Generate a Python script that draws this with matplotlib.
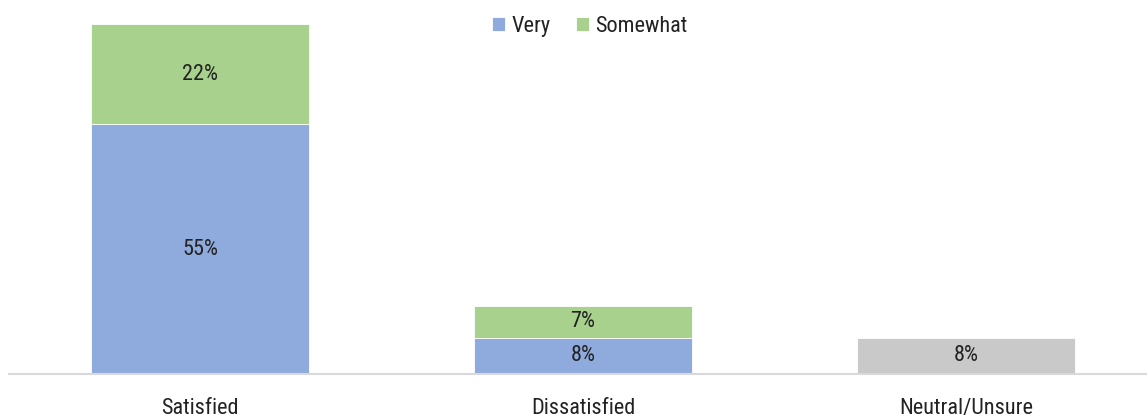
import matplotlib
matplotlib.use("Agg")
import matplotlib.pyplot as plt
from matplotlib import font_manager

categories = ["Satisfied", "Dissatisfied", "Neutral/Unsure"]
very = [55, 8, 0]
somewhat = [22, 7, 0]
neutral = [0, 0, 8]

BLUE, GREEN, GREY = "#8faadc", "#a9d18e", "#c9c9c9"
INK = "#222222"

# narrow sans if one is around, otherwise condensed DejaVu
installed = {f.name for f in font_manager.fontManager.ttflist}
for fam in ("Roboto Condensed", "Open Sans Condensed"):
    if fam in installed:
        plt.rcParams["font.family"] = [fam, "DejaVu Sans"]
        break
else:
    plt.rcParams["font.family"] = ["DejaVu Sans"]
    plt.rcParams["font.stretch"] = "condensed"

FS = 16

fig = plt.figure(figsize=(11.47, 4.18), dpi=100)
ax = fig.add_axes([8.5 / 1147, 44 / 418, 1149 / 1147, 374 / 418])

x = range(len(categories))
w = 0.57
b1 = ax.bar(x, very, w, color=BLUE, label="Very", edgecolor="white", linewidth=0.6)
b2 = ax.bar(x, somewhat, w, bottom=very, color=GREEN, label="Somewhat",
            edgecolor="white", linewidth=0.6)
b3 = ax.bar(x, neutral, w, color=GREY, edgecolor="white", linewidth=0.6)

for bars in (b1, b2, b3):
    for rect in bars:
        h = rect.get_height()
        if h <= 0:
            continue
        ax.text(rect.get_x() + rect.get_width() / 2, rect.get_y() + h / 2,
                f"{h:.0f}%", ha="center", va="center", fontsize=FS, color=INK)

ax.set_xlim(-0.5, 2.5)
ax.set_ylim(0, 82.3)
ax.set_yticks([])
ax.set_xticks(list(x))
ax.set_xticklabels(categories, fontsize=FS, color=INK)
ax.tick_params(axis="x", length=0, pad=17)
for side in ("top", "right", "left"):
    ax.spines[side].set_visible(False)
ax.spines["bottom"].set_color("#d9d9d9")
ax.spines["bottom"].set_linewidth(1.5)

ax.legend(loc="upper center", bbox_to_anchor=(0.506, 1.0), ncol=2, frameon=False,
          fontsize=FS, handlelength=0.6, handleheight=0.6, handletextpad=0.3,
          columnspacing=1.1, labelcolor=INK, borderpad=0.2)

fig.savefig("out.png", dpi=100)
